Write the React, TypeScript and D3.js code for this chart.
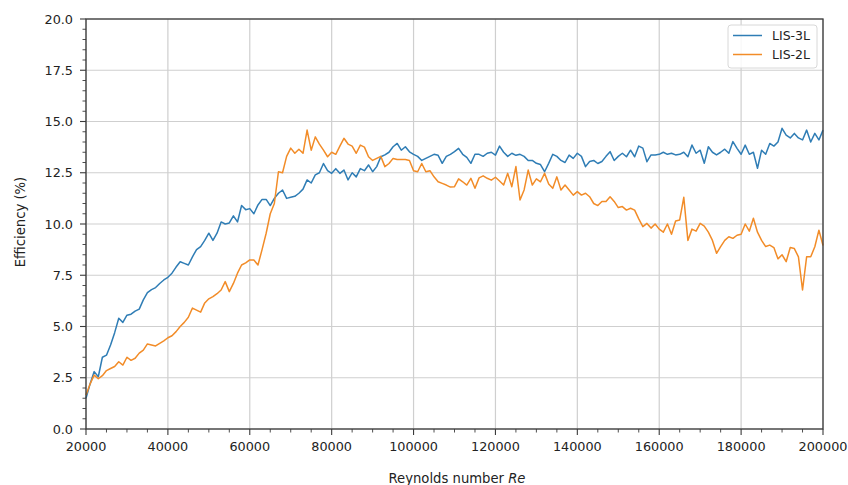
import React from "react";
import * as d3 from "d3";

const reynolds: number[] = d3.range(20000, 200001, 1000);

const lis3L: number[] = [
  1.5, 2.2, 2.8, 2.55, 3.5, 3.6, 4.1, 4.7, 5.4, 5.2,
  5.55, 5.6, 5.75, 5.85, 6.3, 6.65, 6.8, 6.9, 7.1, 7.27,
  7.4, 7.6, 7.9, 8.16, 8.08, 8.0, 8.4, 8.75, 8.9, 9.2,
  9.55, 9.2, 9.55, 10.1, 10.0, 10.05, 10.4, 10.1, 10.9, 10.7,
  10.75, 10.5, 10.93, 11.2, 11.2, 10.9, 11.25, 11.5, 11.66, 11.25,
  11.3, 11.35, 11.5, 11.7, 12.15, 12.0, 12.4, 12.5, 12.95, 12.6,
  12.47, 12.7, 12.47, 12.63, 12.15, 12.5, 12.3, 12.7, 12.6, 12.88,
  12.55, 12.8, 13.28, 13.37, 13.5, 13.77, 13.93, 13.6, 13.77, 13.52,
  13.4, 13.3, 13.1, 13.2, 13.3, 13.4, 13.35, 12.96, 13.3, 13.4,
  13.53, 13.69, 13.4, 13.25, 12.96, 13.4, 13.4, 13.3, 13.45, 13.5,
  13.36, 13.8, 13.5, 13.3, 13.45, 13.35, 13.4, 13.3, 13.1, 13.1,
  12.96, 12.9, 12.55, 12.96, 13.4, 13.3, 13.1, 13.0, 13.36, 13.2,
  13.45, 13.3, 12.8, 13.05, 13.1, 12.95, 13.05, 13.3, 13.53, 13.1,
  13.3, 13.45, 13.28, 13.6, 13.28, 13.8, 13.7, 13.04, 13.37, 13.37,
  13.4, 13.5, 13.4, 13.45, 13.37, 13.4, 13.5, 13.28, 13.85, 13.45,
  13.6, 12.96, 13.77, 13.5, 13.37, 13.5, 13.65, 13.45, 14.02, 13.69,
  13.4, 13.85, 13.4, 13.5, 12.72, 13.6, 13.4, 13.93, 13.8, 14.0,
  14.67, 14.34, 14.2, 14.42, 14.2, 14.1, 14.58, 14.0, 14.42, 14.1,
  14.58,
];

const lis2L: number[] = [
  1.66, 2.2, 2.63, 2.45, 2.6, 2.85, 2.95, 3.05, 3.28, 3.12,
  3.5, 3.35, 3.45, 3.7, 3.85, 4.15, 4.1, 4.05, 4.18, 4.3,
  4.45, 4.55, 4.75, 5.0, 5.2, 5.45, 5.9, 5.8, 5.7, 6.15,
  6.35, 6.46, 6.6, 6.78, 7.19, 6.7, 7.1, 7.6, 8.0, 8.1,
  8.25, 8.24, 8.0, 8.75, 9.55, 10.5, 11.0, 12.55, 12.5, 13.3,
  13.7, 13.45, 13.65, 13.45, 14.58, 13.6, 14.25, 13.9, 13.6, 13.28,
  13.5, 13.4, 13.8, 14.18, 13.9, 13.8, 13.45, 13.85, 13.75, 13.28,
  13.1, 13.2, 13.3, 12.8, 12.95, 13.2, 13.15, 13.15, 13.15, 13.1,
  12.6, 12.55, 12.95, 12.55, 12.6, 12.3, 12.06, 11.98, 11.9, 11.8,
  11.82, 12.2, 12.06, 11.9, 12.23, 11.74, 12.25, 12.35, 12.23, 12.14,
  12.28, 12.1, 11.9, 12.47, 11.82, 12.8, 11.17, 11.66, 12.63, 11.9,
  12.2, 12.06, 12.47, 11.95, 11.74, 12.3, 11.66, 11.9, 11.66, 11.41,
  11.58, 11.41, 11.5, 11.33, 11.0, 10.9, 11.1, 11.1, 11.33, 11.1,
  10.8, 10.85, 10.68, 10.77, 10.68, 10.25, 9.87, 10.03, 9.8, 10.0,
  9.75, 9.6, 10.0, 9.5, 10.15, 10.2, 11.3, 9.2, 9.75, 9.65,
  10.03, 9.9, 9.6, 9.2, 8.57, 8.9, 9.2, 9.38, 9.3, 9.45,
  9.5, 10.0, 9.65, 10.28, 9.6, 9.2, 8.9, 8.97, 8.85, 8.3,
  8.5, 8.16, 8.85, 8.8, 8.4, 6.78, 8.4, 8.4, 8.89, 9.7,
  8.95,
];

const xTicks: number[] = [20000, 40000, 60000, 80000, 100000, 120000, 140000, 160000, 180000, 200000];
const yTicks: number[] = [0, 2.5, 5, 7.5, 10, 12.5, 15, 17.5, 20];
const seriesNames: string[] = ["LIS-3L", "LIS-2L"];
const seriesColors: string[] = ["#2f7db5", "#f28c28"];

const W = 848;
const H = 485;
const M = { left: 86, right: 25, top: 19, bottom: 56 };

export default function App() {
  const x = d3.scaleLinear().domain([20000, 200000]).range([M.left, W - M.right]);
  const y = d3.scaleLinear().domain([0, 20]).range([H - M.bottom, M.top]);
  const line = d3
    .line<number>()
    .x((_, i) => x(reynolds[i]))
    .y((d) => y(d));

  const xMinor = d3.range(20000, 200001, 5000).filter((v) => v % 20000 !== 0);
  const yMinor = d3.range(0, 20.001, 0.5).filter((v) => Math.abs((v / 2.5) - Math.round(v / 2.5)) > 1e-6);
  const font = "DejaVu Sans, sans-serif";
  const axisColor = "#3a3a3a";
  const gridColor = "#cfcfcf";
  const x0 = M.left;
  const x1 = W - M.right;
  const y0 = H - M.bottom;
  const y1 = M.top;

  return (
    <svg width={W} height={H} style={{ position: "absolute", left: 0, top: 0, background: "#fff" }} fontFamily={font}>
      {xTicks.map((t) => (
        <line key={"gx" + t} x1={x(t)} x2={x(t)} y1={y1} y2={y0} stroke={gridColor} strokeWidth={1.2} />
      ))}
      {yTicks.map((t) => (
        <line key={"gy" + t} x1={x0} x2={x1} y1={y(t)} y2={y(t)} stroke={gridColor} strokeWidth={1.2} />
      ))}
      <path d={line(lis3L) || ""} fill="none" stroke={seriesColors[0]} strokeWidth={1.5} strokeLinejoin="round" />
      <path d={line(lis2L) || ""} fill="none" stroke={seriesColors[1]} strokeWidth={1.5} strokeLinejoin="round" />
      <rect x={x0} y={y1} width={x1 - x0} height={y0 - y1} fill="none" stroke={axisColor} strokeWidth={1.3} />
      {xTicks.map((t) => (
        <g key={"xt" + t}>
          <line x1={x(t)} x2={x(t)} y1={y0} y2={y0 + 6} stroke={axisColor} strokeWidth={1.1} />
          <text x={x(t)} y={y0 + 22} textAnchor="middle" fontSize={12.8} fill="#222">
            {t}
          </text>
        </g>
      ))}
      {xMinor.map((t) => (
        <line key={"xm" + t} x1={x(t)} x2={x(t)} y1={y0} y2={y0 + 3.5} stroke={axisColor} strokeWidth={0.9} />
      ))}
      {yTicks.map((t) => (
        <g key={"yt" + t}>
          <line x1={x0 - 6} x2={x0} y1={y(t)} y2={y(t)} stroke={axisColor} strokeWidth={1.1} />
          <text x={x0 - 13} y={y(t)} dy="0.36em" textAnchor="end" fontSize={12.8} fill="#222">
            {t.toFixed(1)}
          </text>
        </g>
      ))}
      {yMinor.map((t) => (
        <line key={"ym" + t} x1={x0 - 3.5} x2={x0} y1={y(t)} y2={y(t)} stroke={axisColor} strokeWidth={0.9} />
      ))}
      <text x={457} y={483} textAnchor="middle" fontSize={13.2} fill="#222">
        Reynolds number <tspan fontStyle="italic">Re</tspan>
      </text>
      <text transform={`translate(24.5, 222) rotate(-90)`} textAnchor="middle" fontSize={13.2} fill="#222">
        Efficiency (%)
      </text>
      <g>
        <rect x={728} y={25} width={89} height={43} rx={3} fill="#fff" fillOpacity={0.85} stroke="#d8d8d8" strokeWidth={1} />
        {seriesNames.map((n, i) => (
          <g key={n}>
            <line x1={733} x2={762} y1={35.5 + i * 19} y2={35.5 + i * 19} stroke={seriesColors[i]} strokeWidth={1.5} />
            <text x={772} y={35.5 + i * 19} dy="0.36em" fontSize={12.5} fill="#222">
              {n}
            </text>
          </g>
        ))}
      </g>
    </svg>
  );
}
